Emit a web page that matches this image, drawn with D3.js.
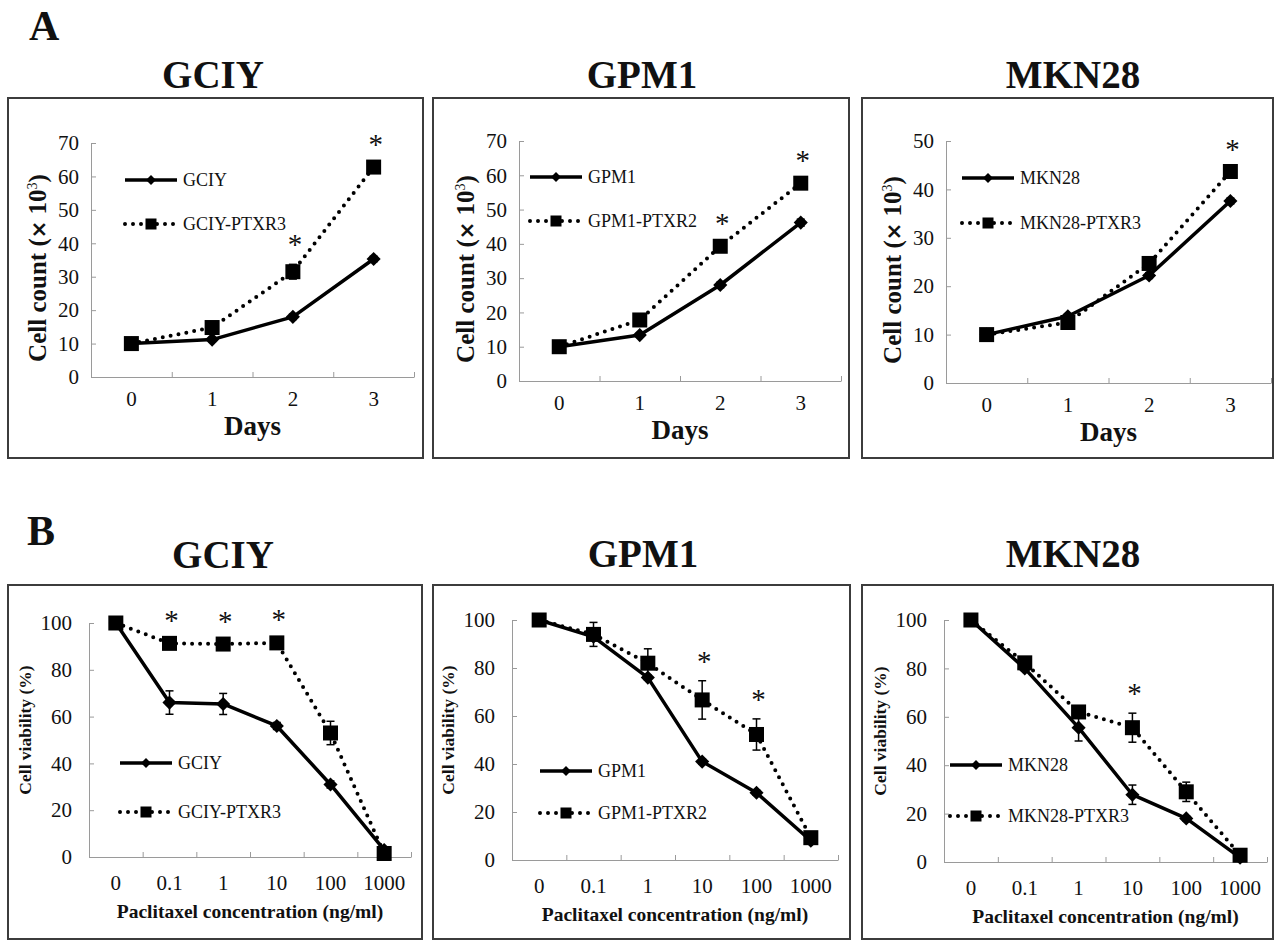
<!DOCTYPE html>
<meta charset="utf-8" />
<html>
<head>
<script src="https://cdn.jsdelivr.net/npm/d3@7"></script>
<style>
  body { margin: 0; background: #fff; }
  text { font-family: "Liberation Serif", "Times New Roman", serif; fill: #111; }
</style>
</head>
<body>
<script>
// ---- Data ----
var dayLabels  = ["0", "1", "2", "3"];
var concLabels = ["0", "0.1", "1", "10", "100", "1000"];

// A: growth curves, cell count (x10^3)
var gciyGrowth        = [10, 11.2, 18, 35.3];
var gciyGrowthErr     = [0.4, 0.6, 0.8, 0.8];
var gciyPtxGrowth     = [10, 14.8, 31.5, 62.8];
var gciyPtxGrowthErr  = [0.5, 1, 2.2, 1];
var gciyGrowthSig     = [2, 3];

var gpm1Growth        = [10, 13.4, 28, 46.2];
var gpm1GrowthErr     = [0.4, 0.6, 0.8, 1];
var gpm1PtxGrowth     = [10, 17.8, 39.3, 57.7];
var gpm1PtxGrowthErr  = [0.4, 0.8, 1, 1];
var gpm1GrowthSig     = [2, 3];

var mkn28Growth       = [10, 13.8, 22.2, 37.6];
var mkn28GrowthErr    = [0.3, 0.5, 0.6, 0.6];
var mkn28PtxGrowth    = [10, 12.5, 24.7, 43.7];
var mkn28PtxGrowthErr = [0.3, 0.5, 0.6, 0.6];
var mkn28GrowthSig    = [3];

// B: paclitaxel sensitivity, cell viability (%)
var gciyViab          = [100, 66, 65.4, 56, 31, 3];
var gciyViabErr       = [0, 5, 4.5, 1.5, 1.5, 1];
var gciyPtxViab       = [100, 91.3, 91, 91.5, 53, 1.5];
var gciyPtxViabErr    = [0, 1.5, 1.5, 1.5, 5, 1];
var gciyViabSig       = [1, 2, 3];

var gpm1Viab          = [100, 93, 76, 41, 28, 8];
var gpm1ViabErr       = [0, 1, 1, 1, 1, 0.5];
var gpm1PtxViab       = [100, 94, 82, 66.7, 52.3, 9.3];
var gpm1PtxViabErr    = [0, 5, 6, 8, 6.5, 1];
var gpm1ViabSig       = [3, 4];

var mkn28Viab         = [100, 80, 55.5, 27.8, 18, 1.8];
var mkn28ViabErr      = [0, 1, 5.5, 4, 1, 0.5];
var mkn28PtxViab      = [100, 82.3, 62, 55.5, 29, 2.8];
var mkn28PtxViabErr   = [0, 1, 1, 6, 4, 0.5];
var mkn28ViabSig      = [3];

// ---- Layout ----
var SERIF = "'Liberation Serif', 'Times New Roman', serif";

var panels = [
  { row: "A", title: "GCIY", titleX: 213, titleY: 88, cats: dayLabels, names: ["GCIY", "GCIY-PTXR3"],
    ctrl: gciyGrowth, ctrlErr: gciyGrowthErr, res: gciyPtxGrowth, resErr: gciyPtxGrowthErr, sig: gciyGrowthSig,
    ymax: 70, ystep: 10, box: [8, 98, 423, 458], plot: [91, 414, 143, 377], legend: [125, 180, 224] },
  { row: "A", title: "GPM1", titleX: 642, titleY: 88, cats: dayLabels, names: ["GPM1", "GPM1-PTXR2"],
    ctrl: gpm1Growth, ctrlErr: gpm1GrowthErr, res: gpm1PtxGrowth, resErr: gpm1PtxGrowthErr, sig: gpm1GrowthSig,
    ymax: 70, ystep: 10, box: [433, 98, 849, 458], plot: [519, 841, 141, 381], legend: [530, 177, 221] },
  { row: "A", title: "MKN28", titleX: 1073, titleY: 88, cats: dayLabels, names: ["MKN28", "MKN28-PTXR3"],
    ctrl: mkn28Growth, ctrlErr: mkn28GrowthErr, res: mkn28PtxGrowth, resErr: mkn28PtxGrowthErr, sig: mkn28GrowthSig,
    ymax: 50, ystep: 10, box: [862, 98, 1273, 458], plot: [946, 1271, 141, 383], legend: [962, 178, 223] },
  { row: "B", title: "GCIY", titleX: 223, titleY: 568, cats: concLabels, names: ["GCIY", "GCIY-PTXR3"],
    ctrl: gciyViab, ctrlErr: gciyViabErr, res: gciyPtxViab, resErr: gciyPtxViabErr, sig: gciyViabSig,
    ymax: 100, ystep: 20, box: [8, 585, 422, 939], plot: [89, 411, 623, 857], legend: [120, 763, 812] },
  { row: "B", title: "GPM1", titleX: 643, titleY: 567, cats: concLabels, names: ["GPM1", "GPM1-PTXR2"],
    ctrl: gpm1Viab, ctrlErr: gpm1ViabErr, res: gpm1PtxViab, resErr: gpm1PtxViabErr, sig: gpm1ViabSig,
    ymax: 100, ystep: 20, box: [433, 585, 850, 939], plot: [512, 838, 620, 860], legend: [540, 771, 813] },
  { row: "B", title: "MKN28", titleX: 1073, titleY: 567, cats: concLabels, names: ["MKN28", "MKN28-PTXR3"],
    ctrl: mkn28Viab, ctrlErr: mkn28ViabErr, res: mkn28PtxViab, resErr: mkn28PtxViabErr, sig: mkn28ViabSig,
    ymax: 100, ystep: 20, box: [862, 585, 1273, 939], plot: [944, 1267, 620, 862], legend: [950, 765, 816] }
];

var svg = d3.select("body").append("svg").attr("width", 1276).attr("height", 941);
svg.append("rect").attr("width", 1276).attr("height", 941).attr("fill", "#fff");

// section letters
svg.append("text").attr("x", 29).attr("y", 40).attr("font-size", 42).attr("font-weight", "bold").text("A");
svg.append("text").attr("x", 27).attr("y", 545).attr("font-size", 42).attr("font-weight", "bold").text("B");

var diamond = d3.symbol().type(d3.symbolSquare);

function styleAxis(sel, fontSize) {
  sel.attr("font-family", SERIF).attr("font-size", fontSize);
  sel.select(".domain").attr("stroke", "#9a9a9a");
  sel.selectAll(".tick line").attr("stroke", "#9a9a9a");
  sel.selectAll(".tick text").attr("fill", "#111");
}

function drawMarker(g, shape, px, py, size) {
  if (shape === "diamond") {
    g.append("path").attr("d", diamond.size(size * size)())
      .attr("transform", "translate(" + px + "," + py + ") rotate(45)").attr("fill", "#000");
  } else {
    g.append("rect").attr("x", px - size / 2).attr("y", py - size / 2)
      .attr("width", size).attr("height", size).attr("fill", "#000");
  }
}

function drawPanel(p) {
  var isA = p.row === "A";
  var g = svg.append("g");

  // frame
  g.append("rect").attr("x", p.box[0]).attr("y", p.box[1])
    .attr("width", p.box[2] - p.box[0]).attr("height", p.box[3] - p.box[1])
    .attr("fill", "none").attr("stroke", "#3c3c3c").attr("stroke-width", 2);

  // title
  g.append("text").attr("x", p.titleX).attr("y", p.titleY).attr("text-anchor", "middle")
    .attr("font-size", 39).attr("font-weight", "bold").text(p.title);

  var x = d3.scaleBand().domain(p.cats).range([p.plot[0], p.plot[1]]);
  var xEdge = d3.scaleLinear().domain([0, p.cats.length]).range([p.plot[0], p.plot[1]]);
  var y = d3.scaleLinear().domain([0, p.ymax]).range([p.plot[3], p.plot[2]]);
  var cx = function(i) { return x(p.cats[i]) + x.bandwidth() / 2; };

  // x axis: line + ticks between categories
  g.append("g").attr("transform", "translate(0," + p.plot[3] + ")")
    .call(d3.axisBottom(xEdge).tickValues(d3.range(0, p.cats.length + 1)).tickSizeInner(-5).tickSizeOuter(0).tickFormat(""))
    .call(styleAxis, 21);
  // category labels
  g.append("g").attr("transform", "translate(0," + p.plot[3] + ")")
    .call(d3.axisBottom(x).tickSize(0).tickPadding(isA ? 14 : 18))
    .call(styleAxis, 21)
    .call(function(s) { s.select(".domain").remove(); });

  // y axis
  g.append("g").attr("transform", "translate(" + p.plot[0] + ",0)")
    .call(d3.axisLeft(y).tickValues(d3.range(0, p.ymax + p.ystep / 2, p.ystep))
      .tickSizeInner(-5).tickSizeOuter(0).tickPadding(isA ? 12 : 17))
    .call(styleAxis, 21);

  // axis titles
  var midX = (p.plot[0] + p.plot[1]) / 2, midY = (p.plot[2] + p.plot[3]) / 2;
  if (isA) {
    g.append("text").attr("x", midX).attr("y", p.plot[3] + 58).attr("text-anchor", "middle")
      .attr("font-size", 27).attr("font-weight", "bold").text("Days");
    var yl = g.append("text").attr("transform", "translate(" + (p.plot[0] - 45) + "," + (midY + 8) + ") rotate(-90)")
      .attr("text-anchor", "middle").attr("font-size", 25).attr("font-weight", "bold");
    yl.append("tspan").text("Cell count (");
    yl.append("tspan").attr("font-family", "'DejaVu Sans', sans-serif").attr("font-size", 21).text("\u00D7");
    yl.append("tspan").text(" 10");
    yl.append("tspan").attr("dy", -9).attr("font-size", 14).attr("font-weight", "normal").text("3");
    yl.append("tspan").attr("dy", 9).text(")");
  } else {
    g.append("text").attr("x", midX).attr("y", p.plot[3] + 61).attr("text-anchor", "middle")
      .attr("font-size", 19.5).attr("font-weight", "bold").text("Paclitaxel concentration (ng/ml)");
    g.append("text").attr("transform", "translate(" + (p.plot[0] - 58) + "," + (midY - 10) + ") rotate(-90)")
      .attr("text-anchor", "middle").attr("font-size", 17.5).attr("font-weight", "bold").text("Cell viability (%)");
  }

  var line = d3.line().x(function(d, i) { return cx(i); }).y(function(d) { return y(d); });

  // error bars
  function errBars(vals, errs) {
    vals.forEach(function(v, i) {
      if (!errs[i]) return;
      var x0 = cx(i), y1 = y(v - errs[i]), y2 = y(v + errs[i]);
      g.append("line").attr("x1", x0).attr("x2", x0).attr("y1", y1).attr("y2", y2).attr("stroke", "#000").attr("stroke-width", 1.5);
      [y1, y2].forEach(function(yy) {
        g.append("line").attr("x1", x0 - 4).attr("x2", x0 + 4).attr("y1", yy).attr("y2", yy).attr("stroke", "#000").attr("stroke-width", 1.5);
      });
    });
  }
  errBars(p.ctrl, p.ctrlErr);
  errBars(p.res, p.resErr);

  // parental line (solid, diamonds)
  g.append("path").datum(p.ctrl).attr("d", line).attr("fill", "none")
    .attr("stroke", "#000").attr("stroke-width", 3.5).attr("stroke-linejoin", "round");
  p.ctrl.forEach(function(v, i) { drawMarker(g, "diamond", cx(i), y(v), 10); });

  // resistant line (dotted, squares)
  g.append("path").datum(p.res).attr("d", line).attr("fill", "none")
    .attr("stroke", "#000").attr("stroke-width", 4).attr("stroke-linecap", "round").attr("stroke-dasharray", "0 8");
  p.res.forEach(function(v, i) { drawMarker(g, "square", cx(i), y(v), 15); });

  // significance
  p.sig.forEach(function(i) {
    var top = Math.max(p.ctrl[i] + p.ctrlErr[i], p.res[i] + p.resErr[i]);
    g.append("text").attr("x", cx(i) + 2).attr("y", y(top) - 10).attr("text-anchor", "middle")
      .attr("font-size", 29).text("*");
  });

  // legend
  var lx = p.legend[0], lw = 52;
  g.append("line").attr("x1", lx).attr("x2", lx + lw).attr("y1", p.legend[1]).attr("y2", p.legend[1])
    .attr("stroke", "#000").attr("stroke-width", 3.5);
  drawMarker(g, "diamond", lx + lw / 2, p.legend[1], 7);
  g.append("line").attr("x1", lx).attr("x2", lx + lw).attr("y1", p.legend[2]).attr("y2", p.legend[2])
    .attr("stroke", "#000").attr("stroke-width", 4).attr("stroke-linecap", "round").attr("stroke-dasharray", "0 8");
  drawMarker(g, "square", lx + lw / 2, p.legend[2], 11);
  [p.legend[1], p.legend[2]].forEach(function(ly, k) {
    g.append("text").attr("x", lx + lw + 6).attr("y", ly).attr("dy", "0.35em")
      .attr("font-size", 18).text(p.names[k]);
  });
}

panels.forEach(drawPanel);
</script>
</body>
</html>
